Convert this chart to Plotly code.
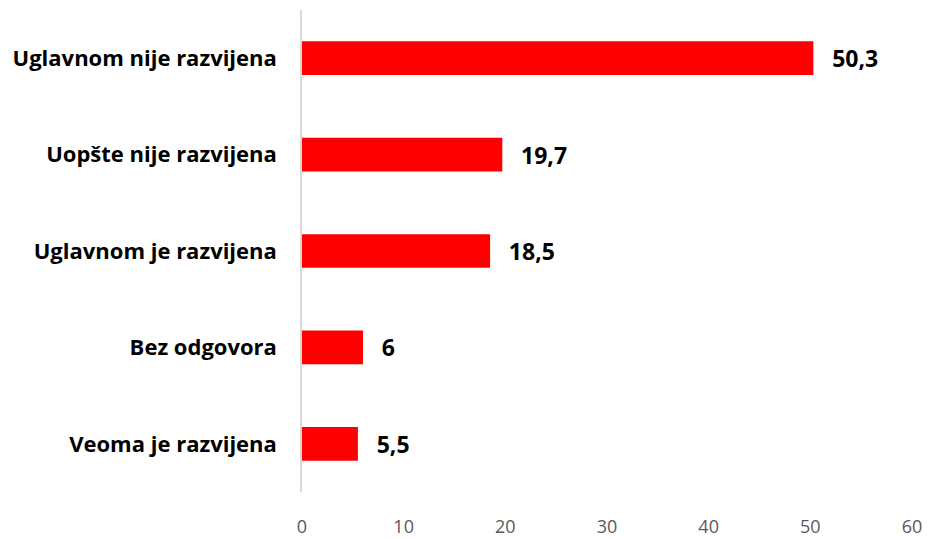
import plotly.graph_objects as go

categories = ["Veoma je razvijena", "Bez odgovora", "Uglavnom je razvijena",
              "Uopšte nije razvijena", "Uglavnom nije razvijena"]
values = [5.5, 6, 18.5, 19.7, 50.3]
value_labels = ["5,5", "6", "18,5", "19,7", "50,3"]
x_ticks = [0, 10, 20, 30, 40, 50, 60]

pad = "\u00a0\u00a0\u2009"
fig = go.Figure(go.Bar(
    x=values, y=categories, orientation="h",
    marker=dict(color="#FF0000", line=dict(width=0)),
    text=[pad + t for t in value_labels], textposition="outside",
    textfont=dict(family="Open Sans", size=23, color="#000000", weight="bold"),
    cliponaxis=False,
))

# page body has an 8px default margin, compensated in the figure margins
fig.update_layout(
    width=931, height=539,
    margin=dict(l=294, r=27, t=2, b=55, autoexpand=False),
    paper_bgcolor="white", plot_bgcolor="white",
    bargap=0.65,
    showlegend=False,
    font=dict(family="Open Sans"),
)
fig.update_xaxes(
    range=[0, 60], tickvals=x_ticks, showgrid=False, zeroline=False,
    showline=False, ticklabelstandoff=22, automargin=False,
    tickfont=dict(family="Open Sans", size=18, color="#595959"),
)
fig.update_yaxes(
    range=[-0.5, 4.5], showgrid=False, zeroline=False,
    showline=True, linecolor="#D9D9D9", linewidth=1.5,
    ticklabelstandoff=19, automargin=False,
    tickfont=dict(family="Open Sans", size=22, color="#000000", weight="bold"),
)

fig.write_html("out.html")
